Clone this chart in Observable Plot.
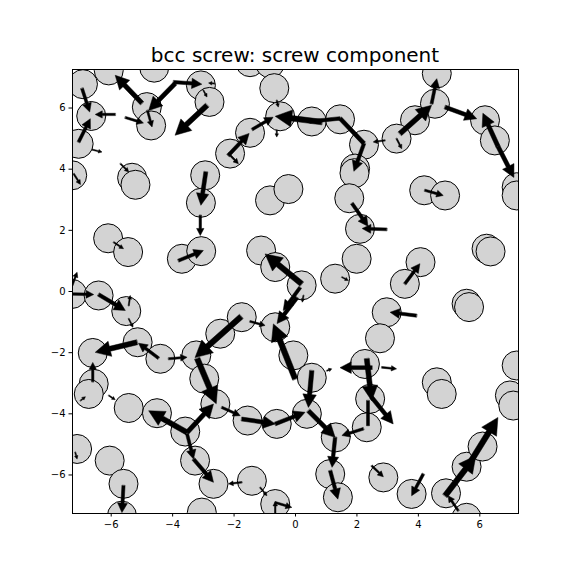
<!DOCTYPE html>
<html>
<head>
<meta charset="utf-8">
<script src="https://cdn.jsdelivr.net/npm/d3@7"></script>
<script src="https://cdn.jsdelivr.net/npm/@observablehq/plot@0.6"></script>
<style>
  html, body { margin: 0; padding: 0; background: white; }
  #wrap { position: relative; width: 576px; height: 576px; }
  #title { position: absolute; left: 72px; width: 446px; top: 45px; text-align: center;
           font-family: "DejaVu Sans", sans-serif; font-size: 20px; line-height: 20px; color: black; white-space: nowrap; }
</style>
</head>
<body>
<div id="wrap">
  <div id="title">bcc screw: screw component</div>
</div>
<script>
// Atom column positions (Å)
const atomX = [-6.92,-6.08,-4.84,-4.70,-4.60,-3.08,-2.80,-6.65,-7.06,-7.27,-5.32,-5.21,-2.94,-3.08,-1.48,-0.83,-0.69,-0.50,0.53,1.45,2.23,1.94,1.92,1.75,-1.48,-2.13,-0.83,-0.23,4.60,4.54,3.89,3.29,6.17,6.49,7.20,7.20,4.19,4.87,-6.10,-5.45,-3.70,-3.07,-7.27,-6.41,-5.51,-5.14,-6.60,-4.40,-3.23,-2.97,-2.45,2.10,1.99,1.29,-1.12,-0.66,0.20,-1.75,-0.66,-0.07,0.53,2.26,4.07,3.56,2.97,2.75,6.22,6.35,5.57,5.65,7.20,-6.57,-6.73,-5.43,-4.51,-3.59,-3.27,-2.67,-2.61,-7.11,-6.05,-5.60,-5.65,-3.05,-1.56,-0.61,0.37,1.31,2.32,2.43,1.13,1.38,-1.42,-0.66,4.60,4.76,6.98,7.09,2.86,3.78,4.90,5.57,6.09,5.57];
const atomY = [6.78,7.23,6.03,5.43,7.32,6.74,6.20,5.74,4.83,3.80,3.72,3.49,3.80,2.90,7.50,7.46,6.65,5.73,5.56,5.63,4.80,4.02,3.87,3.05,5.19,4.51,2.98,3.35,7.13,6.14,5.60,5.00,5.60,4.94,3.41,3.14,3.31,3.14,1.74,1.29,1.07,1.32,-0.08,-0.13,-0.64,-1.66,-2.01,-2.20,-2.09,-2.85,-1.38,2.05,1.07,0.42,1.34,0.80,0.20,-0.84,-1.17,-2.09,-2.82,-2.37,0.96,0.25,-0.68,-1.53,1.40,1.31,-0.40,-0.51,-2.42,-3.02,-3.35,-3.81,-3.98,-4.58,-5.53,-6.29,-3.68,-5.15,-5.53,-6.29,-7.33,-7.23,-4.22,-4.33,-4.00,-4.77,-4.44,-3.51,-5.97,-6.73,-6.19,-6.95,-2.97,-3.35,-3.40,-3.73,-6.08,-6.62,-6.60,-5.73,-5.07,-7.40];

// Differential displacement arrows: tail (x1,y1) -> tip (x2,y2)
const arrowX1 = [-6.95,-7.06,-5.87,-6.62,-5.00,-3.92,-3.97,-2.88,-5.54,-4.82,-7.22,-5.70,-2.92,-3.10,0.86,2.23,-2.19,-1.41,-2.18,1.84,2.97,4.43,3.40,4.87,6.59,6.59,2.91,3.29,4.21,-3.81,-5.92,-7.27,-7.27,-6.41,-5.43,-5.43,-5.16,-4.46,-4.13,-1.77,-3.20,-6.60,0.20,0.15,0.05,-0.01,-1.48,2.49,2.32,3.56,3.94,2.81,-7.00,-3.53,-3.53,-3.53,-3.32,-5.60,-7.17,0.53,0.42,-2.40,-1.75,-0.66,1.29,1.13,2.21,-1.75,-1.15,-0.66,-0.66,2.48,2.48,4.16,4.87,5.68,5.30,-6.08,-3.00,-2.64,1.51,0.26,-0.61,-0.61,1.02];
const arrowY1 = [6.64,4.89,5.79,4.64,6.16,6.80,6.85,6.09,5.69,5.92,3.85,4.18,3.91,2.49,5.54,4.84,4.45,5.30,4.51,2.88,2.03,6.14,5.16,6.03,4.75,4.75,4.94,5.00,3.31,1.01,1.61,-0.08,0.20,-0.10,-0.46,-0.89,-1.66,-2.18,-2.20,-0.82,-2.19,-2.95,0.25,0.13,-0.20,-2.86,-0.98,-2.49,-2.20,0.25,-0.79,-2.48,-3.57,-4.61,-4.61,-4.66,-5.48,-6.35,-5.26,-2.59,-3.90,-3.79,-4.17,-4.33,-4.77,-5.86,-4.49,-6.24,-6.41,-6.90,-7.27,-3.46,-5.70,-5.97,-6.68,-5.60,-7.17,-3.40,6.58,6.80,0.47,-0.13,6.25,5.27,-2.59];
const arrowX2 = [-6.70,-6.68,-6.52,-6.30,-5.87,-4.78,-3.05,-3.92,-4.95,-4.67,-7.00,-5.43,-3.08,-3.10,-0.66,1.90,-1.51,-0.73,-1.86,2.36,2.17,4.60,4.43,5.90,6.10,7.11,2.53,3.46,4.81,-3.00,-5.60,-6.57,-7.11,-5.54,-5.38,-5.29,-6.52,-5.11,-3.53,-3.27,-2.58,-6.60,-0.99,-0.40,-0.60,-0.72,-0.99,1.45,2.48,4.05,3.08,3.29,-6.84,-4.78,-2.67,-3.32,-2.67,-5.65,-7.11,0.42,1.29,-1.80,-0.66,0.31,1.19,1.38,1.51,-2.18,-0.93,-0.12,-0.66,3.18,2.86,3.78,5.87,6.59,4.97,-5.87,-2.88,-2.83,1.72,0.22,-0.56,-0.61,1.18];
const arrowY2 = [5.87,5.65,5.79,4.56,7.07,5.92,6.78,5.11,5.51,5.38,3.50,3.91,2.82,1.83,5.73,3.93,5.17,5.70,4.18,2.13,2.06,6.96,6.09,5.65,5.83,3.73,4.89,4.67,3.14,1.34,1.40,-0.10,0.63,-0.62,-0.13,-1.17,-1.99,-1.69,-2.15,-2.16,-3.67,-2.32,1.23,-0.62,-1.05,-1.06,-1.11,-2.49,-3.57,0.91,-0.68,-2.53,-3.44,-3.90,-3.68,-5.48,-6.24,-7.23,-5.48,-3.79,-4.77,-4.06,-4.33,-3.95,-5.75,-6.79,-4.71,-6.29,-6.68,-7.06,-6.87,-4.33,-6.06,-6.68,-5.37,-4.12,-6.68,-3.54,6.36,6.82,0.36,-0.35,6.03,5.05,-2.53];

// Shaft segments whose heads are hidden under others
const segX1 = [0.47, 1.45, 2.36];
const segY1 = [5.56, 5.66, -3.57];
const segX2 = [1.45, 2.23, 2.36];
const segY2 = [5.66, 4.84, -4.39];

const ticks = [-6, -4, -2, 0, 2, 4, 6];

// ---- build table rows ----
const atoms = atomX.map((x, i) => ({x, y: atomY[i]}));
const PX = 30.7; // approximate pixels per Å, for arrow geometry
function poly(id, x1, y1, x2, y2, headed) {
  const dx = x2 - x1, dy = y2 - y1, L = Math.hypot(dx, dy);
  const ux = dx / L, uy = dy / L, nx = -uy, ny = ux;
  const wpx = Math.max(1.1, Math.min(5.6, 3.6 * L));
  const w = wpx / PX / 2;
  const pts = [];
  if (headed) {
    const hw = 1.55 * wpx / PX;
    const hl = Math.min(3.0 * wpx / PX, 0.55 * L);
    const bx = x2 - ux * hl, by = y2 - uy * hl;
    pts.push([x1 + nx * w, y1 + ny * w], [bx + nx * w, by + ny * w], [bx + nx * hw, by + ny * hw],
             [x2, y2], [bx - nx * hw, by - ny * hw], [bx - nx * w, by - ny * w], [x1 - nx * w, y1 - ny * w]);
  } else {
    pts.push([x1 + nx * w, y1 + ny * w], [x2 + nx * w, y2 + ny * w], [x2 - nx * w, y2 - ny * w], [x1 - nx * w, y1 - ny * w]);
  }
  return pts.map(([x, y]) => ({id, x, y}));
}
const polys = [];
arrowX1.forEach((_, i) => polys.push(...poly("a" + i, arrowX1[i], arrowY1[i], arrowX2[i], arrowY2[i], true)));
segX1.forEach((_, i) => polys.push(...poly("s" + i, segX1[i], segY1[i], segX2[i], segY2[i], false)));

const chart = Plot.plot({
  width: 576,
  height: 576,
  marginLeft: 72,
  marginRight: 58,
  marginTop: 69,
  marginBottom: 63,
  style: {fontFamily: "DejaVu Sans, sans-serif", fontSize: "10px", background: "white", color: "black"},
  x: {domain: [-7.26, 7.26], ticks, tickSize: 3.5, tickPadding: 3.5, label: null},
  y: {domain: [-7.26, 7.26], ticks, tickSize: 3.5, tickPadding: 3.5, label: null},
  marks: [
    Plot.dot(atoms, {x: "x", y: "y", r: 14.5, fill: "#d3d3d3", stroke: "black", strokeWidth: 1, clip: true}),
    Plot.line(polys, {x: "x", y: "y", z: "id", fill: "black", stroke: "black", strokeWidth: 0.5, curve: "linear-closed", clip: true}),
    Plot.frame({stroke: "black", strokeWidth: 1})
  ]
});
document.getElementById("wrap").appendChild(chart);
</script>
</body>
</html>
